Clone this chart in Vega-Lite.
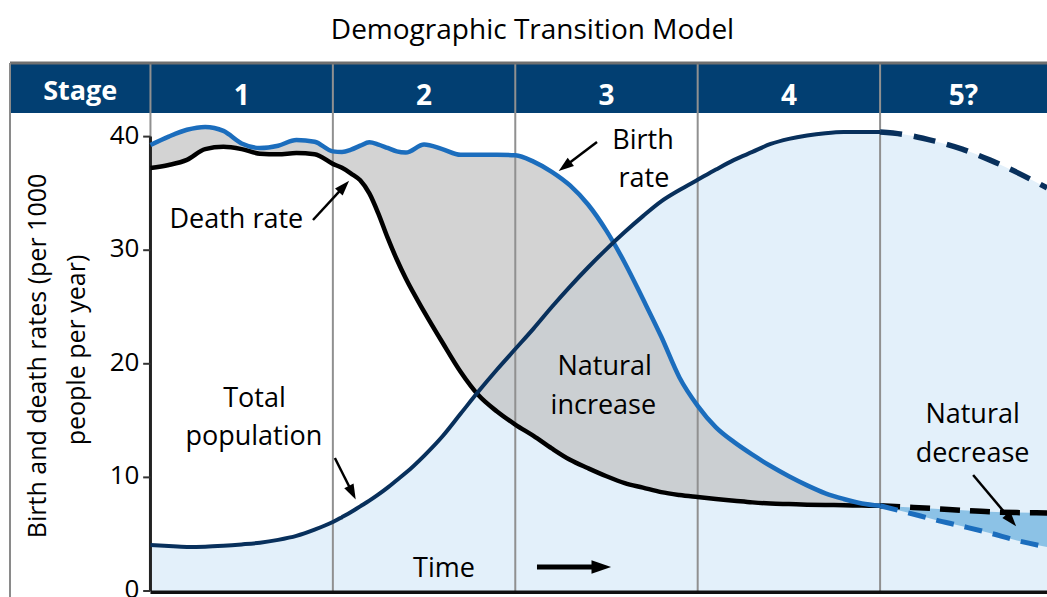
{
  "$schema": "https://vega.github.io/schema/vega-lite/v6.json",
  "width": 1037,
  "height": 534,
  "autosize": {"type": "none"},
  "padding": {"left": 10, "top": 63, "right": 0, "bottom": 0},
  "background": "#ffffff",
  "config": {"view": {"stroke": null}, "font": "Open Sans"},
  "title": {
    "text": "Demographic Transition Model",
    "font": "Open Sans",
    "fontSize": 28,
    "fontWeight": "normal",
    "color": "#000000",
    "anchor": "middle",
    "offset": 17,
    "dx": 4
  },
  "datasets": {
    "stages": [
      {"label": "Stage", "start": -0.77, "end": 0},
      {"label": "1", "start": 0, "end": 1},
      {"label": "2", "start": 1, "end": 2},
      {"label": "3", "start": 2, "end": 3},
      {"label": "4", "start": 3, "end": 4},
      {"label": "5?", "start": 4, "end": 4.915}
    ],
    "ticks": [{"value": 0}, {"value": 10}, {"value": 20}, {"value": 30}, {"value": 40}],
    "axisTitle": [
      {"text": "Birth and death rates (per 1000", "t": -0.617, "v": 20.69},
      {"text": "people per year)", "t": -0.403, "v": 21.21}
    ],
    "rates": [
      {"t": 0, "birth": 39.26, "death": 37.24, "population": 4.05},
      {"t": 0.1, "birth": 40.0, "death": 37.5, "population": 3.95},
      {"t": 0.2, "birth": 40.6, "death": 37.95, "population": 3.88},
      {"t": 0.3, "birth": 40.85, "death": 38.9, "population": 3.9},
      {"t": 0.4, "birth": 40.5, "death": 39.1, "population": 3.98},
      {"t": 0.5, "birth": 39.4, "death": 38.9, "population": 4.1},
      {"t": 0.6, "birth": 39.0, "death": 38.5, "population": 4.25},
      {"t": 0.7, "birth": 39.2, "death": 38.45, "population": 4.5},
      {"t": 0.8, "birth": 39.7, "death": 38.55, "population": 4.85},
      {"t": 0.9, "birth": 39.55, "death": 38.45, "population": 5.4},
      {"t": 1.0, "birth": 38.7, "death": 37.6, "population": 6.07},
      {"t": 1.05, "birth": 38.65, "death": 37.25, "population": 6.5},
      {"t": 1.1, "birth": 38.85, "death": 36.75, "population": 6.95},
      {"t": 1.15, "birth": 39.2, "death": 36.15, "population": 7.45},
      {"t": 1.2, "birth": 39.5, "death": 35.0, "population": 7.95},
      {"t": 1.25, "birth": 39.3, "death": 33.2, "population": 8.5},
      {"t": 1.3, "birth": 39.0, "death": 31.1, "population": 9.1},
      {"t": 1.35, "birth": 38.7, "death": 29.2, "population": 9.75},
      {"t": 1.4, "birth": 38.6, "death": 27.5, "population": 10.4},
      {"t": 1.5, "birth": 39.3, "death": 24.6, "population": 11.9},
      {"t": 1.6, "birth": 38.9, "death": 21.9, "population": 13.6},
      {"t": 1.7, "birth": 38.4, "death": 19.3, "population": 15.6},
      {"t": 1.8, "birth": 38.4, "death": 17.2, "population": 17.6},
      {"t": 1.9, "birth": 38.4, "death": 15.8, "population": 19.5},
      {"t": 2.0, "birth": 38.35, "death": 14.65, "population": 21.3},
      {"t": 2.1, "birth": 37.8, "death": 13.65, "population": 23.1},
      {"t": 2.2, "birth": 36.9, "death": 12.55, "population": 25.0},
      {"t": 2.3, "birth": 35.7, "death": 11.55, "population": 26.8},
      {"t": 2.4, "birth": 34.0, "death": 10.8, "population": 28.5},
      {"t": 2.5, "birth": 31.7, "death": 10.1, "population": 30.1},
      {"t": 2.6, "birth": 28.9, "death": 9.5, "population": 31.6},
      {"t": 2.7, "birth": 25.7, "death": 9.1, "population": 33.0},
      {"t": 2.8, "birth": 22.4, "death": 8.7, "population": 34.3},
      {"t": 2.9, "birth": 18.8, "death": 8.45, "population": 35.3},
      {"t": 3.0, "birth": 16.3, "death": 8.27, "population": 36.2},
      {"t": 3.1, "birth": 14.4, "death": 8.1, "population": 37.1},
      {"t": 3.2, "birth": 13.1, "death": 7.95, "population": 37.95},
      {"t": 3.3, "birth": 12.0, "death": 7.8, "population": 38.65},
      {"t": 3.4, "birth": 11.0, "death": 7.7, "population": 39.35},
      {"t": 3.5, "birth": 10.1, "death": 7.65, "population": 39.8},
      {"t": 3.6, "birth": 9.3, "death": 7.6, "population": 40.1},
      {"t": 3.7, "birth": 8.6, "death": 7.57, "population": 40.3},
      {"t": 3.8, "birth": 8.1, "death": 7.55, "population": 40.4},
      {"t": 3.9, "birth": 7.7, "death": 7.52, "population": 40.4},
      {"t": 4.0, "birth": 7.5, "death": 7.5, "population": 40.4},
      {"t": 4.15, "birth": 6.9, "death": 7.38, "population": 40.14},
      {"t": 4.3, "birth": 6.27, "death": 7.25, "population": 39.6},
      {"t": 4.45, "birth": 5.7, "death": 7.1, "population": 38.9},
      {"t": 4.6, "birth": 5.11, "death": 6.97, "population": 37.95},
      {"t": 4.75, "birth": 4.45, "death": 6.9, "population": 36.85},
      {"t": 4.915, "birth": 3.87, "death": 6.87, "population": 35.48}
    ],
    "notes": [
      {"text": "Death rate", "t": 0.471, "v": 31.95},
      {"text": "Birth", "t": 2.70, "v": 38.9},
      {"text": "rate", "t": 2.705, "v": 35.56},
      {"text": "Total", "t": 0.57, "v": 16.2},
      {"text": "population", "t": 0.567, "v": 12.85},
      {"text": "Natural", "t": 2.49, "v": 19.0},
      {"text": "increase", "t": 2.483, "v": 15.6},
      {"text": "Natural", "t": 4.507, "v": 14.8},
      {"text": "decrease", "t": 4.507, "v": 11.36},
      {"text": "Time", "t": 1.609, "v": 1.23}
    ],
    "arrows": [
      {"kind": "note", "t": 0.891, "v": 32.66, "t2": 1.057, "v2": 35.55},
      {"kind": "note", "t": 2.448, "v": 39.52, "t2": 2.276, "v2": 37.43},
      {"kind": "note", "t": 1.011, "v": 11.71, "t2": 1.104, "v2": 8.74},
      {"kind": "note", "t": 4.51, "v": 10.21, "t2": 4.715, "v2": 6.29},
      {"kind": "time", "t": 2.119, "v": 2.11, "t2": 2.464, "v2": 2.11}
    ]
  },
  "layer": [
    {
      "data": {"name": "rates"},
      "mark": {"type": "area", "color": "#e3f0fa", "interpolate": "monotone"},
      "encoding": {
        "x": {"field": "t", "type": "quantitative", "scale": {"domain": [-0.77, 4.915], "nice": false, "zero": false}, "axis": null},
        "y": {"field": "population", "type": "quantitative", "scale": {"domain": [-0.53, 46.48], "nice": false, "zero": false}, "axis": null},
        "y2": {"datum": 0}
      }
    },
    {
      "data": {"name": "stages"},
      "mark": {"type": "rect", "color": "#023f72"},
      "encoding": {
        "x": {"field": "start", "type": "quantitative", "scale": {"domain": [-0.77, 4.915], "nice": false, "zero": false}, "axis": null},
        "x2": {"field": "end"},
        "y": {"datum": 42.08, "type": "quantitative", "scale": {"domain": [-0.53, 46.48], "nice": false, "zero": false}, "axis": null},
        "y2": {"datum": 46.48}
      }
    },
    {
      "data": {"name": "rates"},
      "transform": [{"filter": "datum.t <= 4"}],
      "mark": {"type": "area", "color": "#c2c2c2", "opacity": 0.72, "interpolate": "monotone"},
      "encoding": {
        "x": {"field": "t", "type": "quantitative", "scale": {"domain": [-0.77, 4.915], "nice": false, "zero": false}, "axis": null},
        "y": {"field": "birth", "type": "quantitative", "scale": {"domain": [-0.53, 46.48], "nice": false, "zero": false}, "axis": null},
        "y2": {"field": "death"}
      }
    },
    {
      "data": {"name": "rates"},
      "transform": [{"filter": "datum.t >= 4"}],
      "mark": {"type": "area", "color": "#8cc2e6", "interpolate": "monotone"},
      "encoding": {
        "x": {"field": "t", "type": "quantitative", "scale": {"domain": [-0.77, 4.915], "nice": false, "zero": false}, "axis": null},
        "y": {"field": "death", "type": "quantitative", "scale": {"domain": [-0.53, 46.48], "nice": false, "zero": false}, "axis": null},
        "y2": {"field": "birth"}
      }
    },
    {
      "data": {"name": "stages"},
      "transform": [{"filter": "datum.label !== 'Stage'"}],
      "mark": {"type": "rule", "color": "#909090", "strokeWidth": 2},
      "encoding": {
        "x": {"field": "start", "type": "quantitative", "scale": {"domain": [-0.77, 4.915], "nice": false, "zero": false}, "axis": null},
        "y": {"datum": 0, "type": "quantitative", "scale": {"domain": [-0.53, 46.48], "nice": false, "zero": false}, "axis": null},
        "y2": {"datum": 46.48}
      }
    },
    {
      "data": {"name": "stages"},
      "transform": [{"filter": "datum.label === 'Stage'"}],
      "mark": {"type": "rule", "color": "#707070", "strokeWidth": 3},
      "encoding": {
        "x": {"field": "start", "type": "quantitative", "scale": {"domain": [-0.77, 4.915], "nice": false, "zero": false}, "axis": null},
        "x2": {"datum": 4.915},
        "y": {"datum": 46.48, "type": "quantitative", "scale": {"domain": [-0.53, 46.48], "nice": false, "zero": false}, "axis": null}
      }
    },
    {
      "data": {"name": "stages"},
      "transform": [{"filter": "datum.label === 'Stage'"}],
      "mark": {"type": "rule", "color": "#8a8a8a", "strokeWidth": 2},
      "encoding": {
        "x": {"field": "start", "type": "quantitative", "scale": {"domain": [-0.77, 4.915], "nice": false, "zero": false}, "axis": null},
        "y": {"datum": -0.53, "type": "quantitative", "scale": {"domain": [-0.53, 46.48], "nice": false, "zero": false}, "axis": null},
        "y2": {"datum": 46.48}
      }
    },
    {
      "data": {"name": "stages"},
      "transform": [{"filter": "datum.label === '1'"}],
      "mark": {"type": "rule", "color": "#222222", "strokeWidth": 3},
      "encoding": {
        "x": {"field": "start", "type": "quantitative", "scale": {"domain": [-0.77, 4.915], "nice": false, "zero": false}, "axis": null},
        "y": {"datum": 0, "type": "quantitative", "scale": {"domain": [-0.53, 46.48], "nice": false, "zero": false}, "axis": null},
        "y2": {"datum": 40}
      }
    },
    {
      "data": {"name": "stages"},
      "transform": [{"filter": "datum.label === '1'"}],
      "mark": {"type": "rule", "color": "#111111", "strokeWidth": 3.5},
      "encoding": {
        "x": {"field": "start", "type": "quantitative", "scale": {"domain": [-0.77, 4.915], "nice": false, "zero": false}, "axis": null},
        "x2": {"datum": 4.915},
        "y": {"datum": -0.12, "type": "quantitative", "scale": {"domain": [-0.53, 46.48], "nice": false, "zero": false}, "axis": null}
      }
    },
    {
      "data": {"name": "ticks"},
      "mark": {"type": "rule", "color": "#333333", "strokeWidth": 2},
      "encoding": {
        "x": {"datum": -0.04, "type": "quantitative", "scale": {"domain": [-0.77, 4.915], "nice": false, "zero": false}, "axis": null},
        "x2": {"datum": 0},
        "y": {"field": "value", "type": "quantitative", "scale": {"domain": [-0.53, 46.48], "nice": false, "zero": false}, "axis": null}
      }
    },
    {
      "data": {"name": "ticks"},
      "mark": {"type": "text", "font": "Open Sans", "fontSize": 26, "color": "#000000", "align": "right", "baseline": "middle", "dx": -11, "dy": -1},
      "encoding": {
        "x": {"datum": 0, "type": "quantitative", "scale": {"domain": [-0.77, 4.915], "nice": false, "zero": false}, "axis": null},
        "y": {"field": "value", "type": "quantitative", "scale": {"domain": [-0.53, 46.48], "nice": false, "zero": false}, "axis": null},
        "text": {"field": "value", "type": "quantitative"}
      }
    },
    {
      "data": {"name": "axisTitle"},
      "mark": {"type": "text", "font": "Open Sans", "fontSize": 25, "color": "#000000", "align": "center", "baseline": "middle", "angle": 270},
      "encoding": {
        "x": {"field": "t", "type": "quantitative", "scale": {"domain": [-0.77, 4.915], "nice": false, "zero": false}, "axis": null},
        "y": {"field": "v", "type": "quantitative", "scale": {"domain": [-0.53, 46.48], "nice": false, "zero": false}, "axis": null},
        "text": {"field": "text"}
      }
    },
    {
      "data": {"name": "rates"},
      "transform": [{"filter": "datum.t <= 4"}],
      "mark": {"type": "line", "color": "#000000", "strokeWidth": 4.5, "interpolate": "monotone"},
      "encoding": {
        "x": {"field": "t", "type": "quantitative", "scale": {"domain": [-0.77, 4.915], "nice": false, "zero": false}, "axis": null},
        "y": {"field": "death", "type": "quantitative", "scale": {"domain": [-0.53, 46.48], "nice": false, "zero": false}, "axis": null}
      }
    },
    {
      "data": {"name": "rates"},
      "transform": [{"filter": "datum.t >= 4"}],
      "mark": {"type": "line", "color": "#000000", "strokeWidth": 5.5, "strokeDash": [20, 10], "interpolate": "monotone"},
      "encoding": {
        "x": {"field": "t", "type": "quantitative", "scale": {"domain": [-0.77, 4.915], "nice": false, "zero": false}, "axis": null},
        "y": {"field": "death", "type": "quantitative", "scale": {"domain": [-0.53, 46.48], "nice": false, "zero": false}, "axis": null}
      }
    },
    {
      "data": {"name": "rates"},
      "transform": [{"filter": "datum.t <= 4"}],
      "mark": {"type": "line", "color": "#1b6dbd", "strokeWidth": 4.5, "interpolate": "monotone"},
      "encoding": {
        "x": {"field": "t", "type": "quantitative", "scale": {"domain": [-0.77, 4.915], "nice": false, "zero": false}, "axis": null},
        "y": {"field": "birth", "type": "quantitative", "scale": {"domain": [-0.53, 46.48], "nice": false, "zero": false}, "axis": null}
      }
    },
    {
      "data": {"name": "rates"},
      "transform": [{"filter": "datum.t >= 4"}],
      "mark": {"type": "line", "color": "#1b6dbd", "strokeWidth": 5, "strokeDash": [18, 11], "interpolate": "monotone"},
      "encoding": {
        "x": {"field": "t", "type": "quantitative", "scale": {"domain": [-0.77, 4.915], "nice": false, "zero": false}, "axis": null},
        "y": {"field": "birth", "type": "quantitative", "scale": {"domain": [-0.53, 46.48], "nice": false, "zero": false}, "axis": null}
      }
    },
    {
      "data": {"name": "rates"},
      "transform": [{"filter": "datum.t <= 4"}],
      "mark": {"type": "line", "color": "#08305c", "strokeWidth": 4, "interpolate": "monotone"},
      "encoding": {
        "x": {"field": "t", "type": "quantitative", "scale": {"domain": [-0.77, 4.915], "nice": false, "zero": false}, "axis": null},
        "y": {"field": "population", "type": "quantitative", "scale": {"domain": [-0.53, 46.48], "nice": false, "zero": false}, "axis": null}
      }
    },
    {
      "data": {"name": "rates"},
      "transform": [{"filter": "datum.t >= 4"}],
      "mark": {"type": "line", "color": "#08305c", "strokeWidth": 5.5, "strokeDash": [22, 12], "interpolate": "monotone"},
      "encoding": {
        "x": {"field": "t", "type": "quantitative", "scale": {"domain": [-0.77, 4.915], "nice": false, "zero": false}, "axis": null},
        "y": {"field": "population", "type": "quantitative", "scale": {"domain": [-0.53, 46.48], "nice": false, "zero": false}, "axis": null}
      }
    },
    {
      "data": {"name": "notes"},
      "mark": {"type": "text", "font": "Open Sans", "fontSize": 27, "color": "#000000", "align": "center", "baseline": "alphabetic"},
      "encoding": {
        "x": {"field": "t", "type": "quantitative", "scale": {"domain": [-0.77, 4.915], "nice": false, "zero": false}, "axis": null},
        "y": {"field": "v", "type": "quantitative", "scale": {"domain": [-0.53, 46.48], "nice": false, "zero": false}, "axis": null},
        "text": {"field": "text"}
      }
    },
    {
      "data": {"name": "arrows"},
      "mark": {"type": "rule", "color": "#000000"},
      "encoding": {
        "x": {"field": "t", "type": "quantitative", "scale": {"domain": [-0.77, 4.915], "nice": false, "zero": false}, "axis": null},
        "y": {"field": "v", "type": "quantitative", "scale": {"domain": [-0.53, 46.48], "nice": false, "zero": false}, "axis": null},
        "x2": {"field": "t2"},
        "y2": {"field": "v2"},
        "strokeWidth": {"condition": {"test": "datum.kind === 'time'", "value": 5}, "value": 2.5}
      }
    },
    {
      "data": {"name": "arrows"},
      "transform": [{"calculate": "atan2((datum.t2 - datum.t) * 182.4, (datum.v2 - datum.v) * 11.36) * 180 / PI", "as": "heading"}],
      "mark": {"type": "point", "shape": "M0,-1L0.6,0.75L-0.6,0.75Z", "filled": true, "color": "#000000", "opacity": 1},
      "encoding": {
        "x": {"field": "t2", "type": "quantitative", "scale": {"domain": [-0.77, 4.915], "nice": false, "zero": false}, "axis": null},
        "y": {"field": "v2", "type": "quantitative", "scale": {"domain": [-0.53, 46.48], "nice": false, "zero": false}, "axis": null},
        "angle": {"field": "heading", "type": "quantitative", "scale": null},
        "size": {"condition": {"test": "datum.kind === 'time'", "value": 500}, "value": 300}
      }
    },
    {
      "data": {"name": "stages"},
      "transform": [{"filter": "datum.label !== 'Stage'"}, {"calculate": "(datum.start + datum.end) / 2", "as": "mid"}],
      "mark": {"type": "text", "font": "Open Sans", "fontSize": 28, "fontWeight": "bold", "color": "#ffffff", "align": "center", "baseline": "alphabetic"},
      "encoding": {
        "x": {"field": "mid", "type": "quantitative", "scale": {"domain": [-0.77, 4.915], "nice": false, "zero": false}, "axis": null},
        "y": {"datum": 42.78, "type": "quantitative", "scale": {"domain": [-0.53, 46.48], "nice": false, "zero": false}, "axis": null},
        "text": {"field": "label"}
      }
    },
    {
      "data": {"name": "stages"},
      "transform": [{"filter": "datum.label === 'Stage'"}, {"calculate": "(datum.start + datum.end) / 2", "as": "mid"}],
      "mark": {"type": "text", "font": "Open Sans", "fontSize": 27, "fontWeight": "bold", "color": "#ffffff", "align": "center", "baseline": "alphabetic"},
      "encoding": {
        "x": {"field": "mid", "type": "quantitative", "scale": {"domain": [-0.77, 4.915], "nice": false, "zero": false}, "axis": null},
        "y": {"datum": 43.22, "type": "quantitative", "scale": {"domain": [-0.53, 46.48], "nice": false, "zero": false}, "axis": null},
        "text": {"field": "label"}
      }
    }
  ]
}
